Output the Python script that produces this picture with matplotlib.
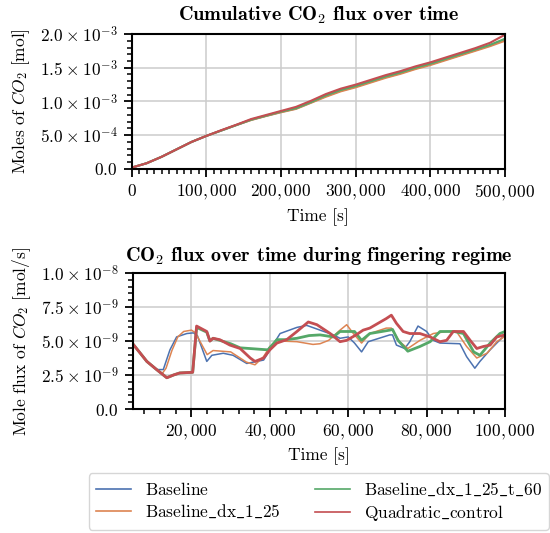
import numpy as np
import matplotlib
matplotlib.use("Agg")
import matplotlib.pyplot as plt
from matplotlib.ticker import FuncFormatter, MultipleLocator

plt.rcParams['font.family'] = ['cmr10', 'DejaVu Serif']
plt.rcParams['mathtext.fontset'] = 'cm'
plt.rcParams['axes.unicode_minus'] = False
plt.rcParams['axes.formatter.use_mathtext'] = True

# cumulative flux, every 20,000 s (values in 1e-3 mol)
t_cum = np.arange(0, 500001, 20000)
cum_baseline = [0.02, 0.085, 0.18, 0.29, 0.40, 0.49, 0.57, 0.65, 0.73, 0.788, 0.845, 0.895, 0.985, 1.08, 1.16, 1.22, 1.29, 1.36, 1.42, 1.49, 1.55, 1.62, 1.69, 1.76, 1.83, 1.915]
cum_dx = [0.02, 0.085, 0.18, 0.29, 0.40, 0.49, 0.57, 0.65, 0.725, 0.785, 0.84, 0.89, 0.98, 1.07, 1.15, 1.21, 1.28, 1.35, 1.41, 1.48, 1.54, 1.61, 1.68, 1.75, 1.82, 1.90]
cum_dx_t60 = [0.02, 0.085, 0.18, 0.29, 0.40, 0.49, 0.57, 0.65, 0.73, 0.79, 0.85, 0.90, 0.99, 1.09, 1.17, 1.23, 1.30, 1.37, 1.43, 1.50, 1.56, 1.63, 1.70, 1.77, 1.84, 1.93]
cum_quad = [0.02, 0.085, 0.18, 0.29, 0.40, 0.49, 0.575, 0.655, 0.74, 0.80, 0.86, 0.92, 1.01, 1.11, 1.19, 1.25, 1.32, 1.39, 1.45, 1.52, 1.58, 1.65, 1.72, 1.79, 1.87, 1.99]

# flux during fingering regime (values in 1e-9 mol/s)
t_base = [5000, 8600, 11100, 12800, 14500, 16200, 18800, 20500, 21500, 23900, 25200, 28100, 30600, 34100, 38400, 40000, 42600, 46900, 49400, 52800, 56200, 57900, 60000, 61600, 63400, 65100, 70600, 71300, 72300, 74400, 75700, 77800, 80000, 81700, 83400, 88500, 90200, 92300, 93600, 96200, 97900, 100000]
f_base = [4.8, 3.5, 2.9, 2.9, 4.35, 5.3, 5.55, 5.6, 5.4, 3.5, 3.95, 4.1, 3.95, 3.35, 3.6, 4.35, 5.55, 6.0, 6.15, 5.8, 5.45, 5.2, 5.3, 4.85, 4.2, 4.95, 5.45, 5.45, 4.7, 4.45, 4.95, 6.1, 5.7, 5.05, 4.85, 4.8, 3.85, 3.0, 3.5, 4.35, 4.85, 5.45]

t_dx = [5000, 8600, 11100, 12500, 13500, 15000, 16500, 18000, 20000, 21000, 24000, 25500, 30000, 34000, 36200, 38400, 40000, 42500, 46900, 51000, 52800, 55000, 57900, 59600, 61300, 63400, 65500, 69700, 71000, 73100, 75200, 78300, 81700, 85100, 87600, 90200, 92800, 95400, 97900, 100000]
f_dx = [4.8, 3.5, 2.9, 2.6, 3.0, 4.3, 5.3, 5.7, 5.8, 5.6, 4.0, 4.3, 4.2, 3.45, 3.25, 3.85, 4.6, 5.0, 4.95, 4.75, 4.8, 5.05, 5.8, 6.2, 5.55, 4.85, 5.55, 5.95, 5.95, 4.95, 4.45, 5.05, 5.55, 5.7, 5.7, 4.6, 3.75, 4.1, 4.95, 5.35]

t_dx_t60 = [5000, 8600, 11100, 13700, 15400, 17000, 20300, 21300, 23900, 24700, 25500, 27200, 30000, 32400, 39500, 41800, 44000, 46900, 50000, 52800, 56200, 57900, 61600, 63400, 65500, 70600, 71300, 72700, 75200, 78300, 80900, 83400, 87000, 89400, 92000, 93600, 96200, 98700, 100000]
f_dx_t60 = [4.8, 3.5, 2.9, 2.3, 2.5, 2.65, 2.7, 6.0, 5.65, 5.0, 5.2, 5.05, 4.8, 4.5, 4.35, 5.1, 5.1, 5.2, 5.4, 5.45, 5.3, 5.7, 5.7, 5.05, 5.55, 5.8, 5.85, 5.05, 4.25, 4.6, 4.95, 5.7, 5.7, 5.55, 4.2, 3.95, 4.85, 5.55, 5.7]

t_quad = [5000, 8600, 11100, 13700, 15400, 17000, 20300, 21300, 23900, 24700, 25500, 27200, 29800, 32400, 35000, 36200, 38400, 40000, 41800, 44300, 46900, 49800, 52000, 55400, 57900, 59600, 62000, 63800, 65500, 69700, 71000, 72300, 74000, 75700, 78300, 80900, 83400, 85100, 86800, 89400, 91100, 92800, 94500, 96200, 97900, 100000]
f_quad = [4.8, 3.5, 2.9, 2.3, 2.5, 2.65, 2.7, 6.1, 5.7, 5.0, 5.2, 5.1, 4.7, 4.45, 3.75, 3.5, 3.75, 4.35, 4.85, 5.1, 5.7, 6.4, 6.2, 5.55, 4.95, 5.05, 5.45, 5.8, 5.95, 6.65, 6.9, 6.3, 5.7, 5.55, 5.55, 5.3, 4.95, 5.05, 5.7, 5.7, 5.05, 4.45, 4.6, 4.7, 5.3, 5.45]

labels = ["Baseline", "Baseline_dx_1_25", "Baseline_dx_1_25_t_60", "Quadratic_control"]
colors = ["#4C72B0", "#DD8452", "#55A868", "#C44E52"]


def sci_fmt(val, pos):
    if abs(val) < 1e-20:
        return "$0.0$"
    exp = int(np.floor(np.log10(abs(val)) + 1e-9))
    mant = val / 10 ** exp
    return r"$%.1f\:\times\:10^{%d}$" % (mant, exp)


def comma_fmt(val, pos):
    return "$" + "{:,.0f}".format(val) + "$"


def tex_label(s):
    return r"$\mathrm{" + s.replace("_", r"\_") + "}$"


def style_axes(ax):
    ax.grid(True, color="#cccccc", lw=1.1)
    ax.set_axisbelow(True)
    for s in ax.spines.values():
        s.set_color("black")
        s.set_linewidth(1.5)
    ax.tick_params(which="major", direction="out", length=6, width=1.3, labelsize=12.5, pad=4)
    ax.tick_params(which="minor", direction="out", length=3.5, width=1.1)
    ax.yaxis.set_major_formatter(FuncFormatter(sci_fmt))
    ax.xaxis.set_major_formatter(FuncFormatter(comma_fmt))


fig = plt.figure(figsize=(5.5, 5.33), dpi=100)
ax1 = fig.add_axes([0.2395, 0.683, 0.6787, 0.2532])
ax2 = fig.add_axes([0.2413, 0.2326, 0.6769, 0.2552])

# top: cumulative
for y, lab, c in zip([cum_baseline, cum_dx, cum_dx_t60, cum_quad], labels, colors):
    ax1.plot(t_cum, np.array(y) * 1e-3, color=c, lw=1.5, label=lab)
ax1.set_xlim(0, 500000)
ax1.set_ylim(0, 2.0e-3)
ax1.xaxis.set_major_locator(MultipleLocator(100000))
ax1.xaxis.set_minor_locator(MultipleLocator(10000))
ax1.yaxis.set_major_locator(MultipleLocator(5e-4))
ax1.yaxis.set_minor_locator(MultipleLocator(1e-4))
style_axes(ax1)
ax1.set_title(r"Cumulative CO$_{\mathbf{2}}$ flux over time", fontfamily="cmb10", fontsize=14.5, pad=10)
ax1.set_xlabel("Time [s]", fontsize=12.5)
ax1.set_ylabel(r"Moles of $CO_2$ [mol]", fontsize=12.5, labelpad=6)

# bottom: flux
ax2.plot(t_base, np.array(f_base) * 1e-9, color=colors[0], lw=1.1, label=tex_label(labels[0]))
ax2.plot(t_dx, np.array(f_dx) * 1e-9, color=colors[1], lw=1.1, label=tex_label(labels[1]))
ax2.plot(t_dx_t60, np.array(f_dx_t60) * 1e-9, color=colors[2], lw=2.0, label=tex_label(labels[2]))
ax2.plot(t_quad, np.array(f_quad) * 1e-9, color=colors[3], lw=2.0, label=tex_label(labels[3]))
ax2.set_xlim(5000, 100000)
ax2.set_ylim(0, 1.0e-8)
ax2.xaxis.set_major_locator(MultipleLocator(20000))
ax2.xaxis.set_minor_locator(MultipleLocator(4000))
ax2.yaxis.set_major_locator(MultipleLocator(2.5e-9))
ax2.yaxis.set_minor_locator(MultipleLocator(5e-10))
style_axes(ax2)
ax2.set_title(r"CO$_{\mathbf{2}}$ flux over time during fingering regime", fontfamily="cmb10", fontsize=14.5, pad=9)
ax2.set_xlabel("Time [s]", fontsize=12.5)
ax2.set_ylabel(r"Mole flux of $CO_2$ [mol/s]", fontsize=12.5, labelpad=6)

handles, labs = ax2.get_legend_handles_labels()
leg = ax2.legend(handles, labs, loc="upper center", bbox_to_anchor=(0.5, -0.41),
                 ncol=2, fontsize=12.5, handlelength=2.0, frameon=True, fancybox=True,
                 edgecolor="#cccccc", columnspacing=2.0, borderpad=0.4, labelspacing=0.3)
for line in leg.get_lines():
    line.set_linewidth(1.2)

fig.savefig("out.png", dpi=100)
